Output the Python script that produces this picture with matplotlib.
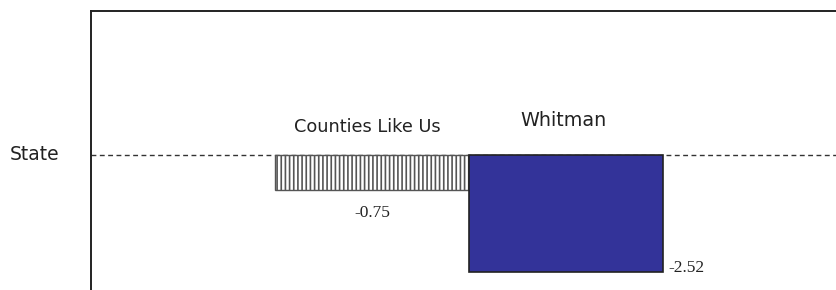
import matplotlib
matplotlib.use('Agg')
import matplotlib.pyplot as plt

# Chart data
categories = ['Counties Like Us', 'Whitman']
values = [-0.75, -2.52]
value_labels = ['-0.75', '-2.52']
baseline_label = 'State'

W, H = 837, 290
fig = plt.figure(figsize=(W / 100, H / 100), dpi=100)

# Axes box runs off the right and bottom edges of the picture
ax_left, ax_top, ax_right, ax_bottom = 91, 11, 900, 320
ax = fig.add_axes([ax_left / W, 1 - ax_bottom / H,
                   (ax_right - ax_left) / W, (ax_bottom - ax_top) / H])

px_per_unit = 46.5
base_y = 155
ax.set_ylim(-(ax_bottom - base_y) / px_per_unit, (base_y - ax_top) / px_per_unit)
bar_px = 194
x0 = -0.5 - (275 - ax_left) / bar_px
ax.set_xlim(x0, x0 + (ax_right - ax_left) / bar_px)

for s in ['right', 'bottom']:
    ax.spines[s].set_visible(False)
for s in ['left', 'top']:
    ax.spines[s].set_linewidth(1.4)
    ax.spines[s].set_color('#222222')
ax.set_xticks([])
ax.set_yticks([])

# State reference line
ax.axhline(0, color='#333333', lw=1, linestyle=(0, (3.5, 2.5)), zorder=1)

plt.rcParams['hatch.color'] = '#666666'
plt.rcParams['hatch.linewidth'] = 1.2
xs = list(range(len(categories)))
ax.bar(xs[0], values[0], width=1, bottom=0, facecolor='white', edgecolor='#555555',
       hatch='||||', lw=1, zorder=2)
ax.bar(xs[1], values[1], width=1, bottom=0, facecolor='#333399', edgecolor='#222222',
       lw=1.2, zorder=2)

# Category names above the line
name_offsets = [28, 34]
name_sizes = [12.8, 13.8]
name_shift = [-0.025, -0.015]
for x, name, off, fs, dx in zip(xs, categories, name_offsets, name_sizes, name_shift):
    ax.text(x + dx, off / px_per_unit, name, ha='center', va='center',
            fontsize=fs, family='DejaVu Sans', color='#222222')

# Value labels
ax.text(xs[0], values[0] - 23 / px_per_unit, value_labels[0], ha='center',
        va='center', fontsize=12.5, family='Liberation Serif', color='#222222')
ax.text(xs[1] + 0.53, values[1] + 4 / px_per_unit, value_labels[1], ha='left',
        va='center', fontsize=12.5, family='Liberation Serif', color='#222222')

fig.text(10 / W, 1 - base_y / H, baseline_label, ha='left', va='center',
         fontsize=13.5, family='DejaVu Sans', color='#222222')

fig.savefig('out.png', dpi=100)
